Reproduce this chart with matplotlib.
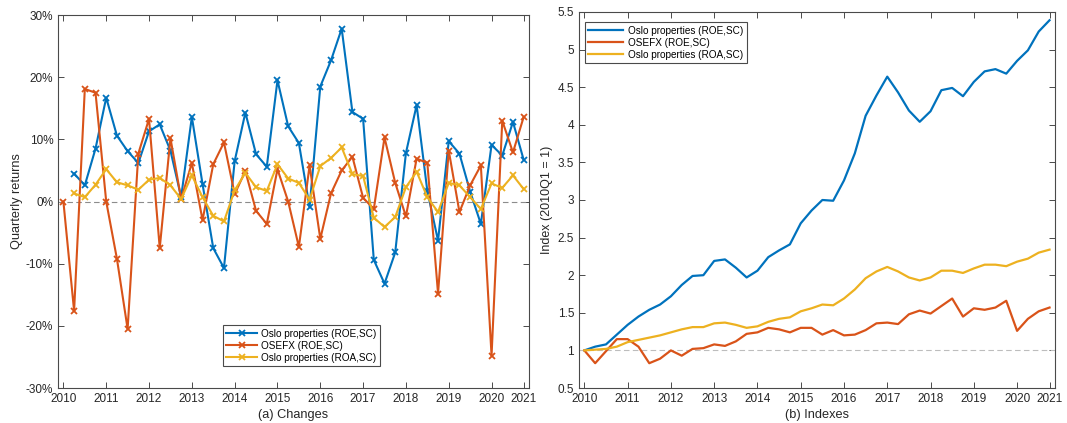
import matplotlib.pyplot as plt
import numpy as np

plt.rcParams['font.family'] = ['Liberation Sans', 'DejaVu Sans']

# quarterly observations 2010Q1 .. 2020Q4
quarters = ["{}Q{}".format(y, q) for y in range(2010, 2021) for q in range(1, 5)]

# (a) quarterly returns, percent (None = no observation)
ret_oslo_roe = [None, 4.5, 2.6, 8.5, 16.7, 10.6, 8.1, 6.2, 11.3, 12.4, 8.2, 0.7,
                13.6, 2.8, -7.5, -10.7, 6.5, 14.3, 7.6, 5.6, 19.5, 12.1, 9.4, -0.9,
                18.5, 22.7, 27.8, 14.4, 13.3, -9.4, -13.2, -8.2, 7.8, 15.5, 1.7, -6.3,
                9.7, 7.7, 1.6, -3.6, 9.1, 7.4, 12.8, 6.7]
ret_osefx = [0.0, -17.6, 18.1, 17.5, 0.0, -9.2, -20.5, 7.7, 13.3, -7.5, 10.2, 0.4,
             6.2, -3.0, 6.0, 9.5, 1.2, 4.9, -1.5, -3.6, 5.2, 0.0, -7.3, 5.8,
             -6.0, 1.3, 5.0, 7.2, 0.6, -1.2, 10.3, 3.0, -2.4, 6.9, 6.2, -14.8,
             8.2, -1.7, 2.6, 5.8, -24.8, 13.0, 7.9, 13.6]
ret_oslo_roa = [None, 1.3, 0.7, 2.7, 5.2, 3.1, 2.6, 1.9, 3.5, 3.8, 2.6, 0.4,
                4.2, 0.7, -2.3, -3.2, 1.8, 4.6, 2.3, 1.7, 6.0, 3.7, 3.0, 0.3,
                5.7, 7.0, 8.7, 4.4, 4.1, -2.6, -4.1, -2.5, 2.3, 4.8, 0.7, -1.7,
                3.0, 2.6, 0.7, -1.2, 2.9, 2.2, 4.2, 2.0]

# (b) indexes, 2010Q1 = 1
idx_oslo_roe = [1.0, 1.05, 1.08, 1.21, 1.34, 1.45, 1.54, 1.61, 1.72, 1.87, 1.99, 2.0,
                2.19, 2.21, 2.10, 1.97, 2.06, 2.24, 2.33, 2.41, 2.69, 2.86, 3.0, 2.99,
                3.26, 3.62, 4.12, 4.39, 4.64, 4.43, 4.19, 4.04, 4.18, 4.46, 4.49, 4.38,
                4.57, 4.71, 4.74, 4.68, 4.85, 4.99, 5.24, 5.39]
idx_osefx = [1.0, 0.83, 0.99, 1.15, 1.15, 1.05, 0.83, 0.89, 1.0, 0.93, 1.02, 1.03,
             1.08, 1.06, 1.12, 1.22, 1.24, 1.30, 1.28, 1.24, 1.30, 1.30, 1.21, 1.27,
             1.20, 1.21, 1.27, 1.36, 1.37, 1.35, 1.48, 1.53, 1.49, 1.59, 1.69, 1.45,
             1.56, 1.54, 1.57, 1.66, 1.26, 1.42, 1.52, 1.57]
idx_oslo_roa = [1.0, 1.01, 1.02, 1.05, 1.11, 1.14, 1.17, 1.20, 1.24, 1.28, 1.31, 1.31,
                1.36, 1.37, 1.34, 1.30, 1.32, 1.38, 1.42, 1.44, 1.52, 1.56, 1.61, 1.60,
                1.69, 1.81, 1.96, 2.05, 2.11, 2.05, 1.97, 1.93, 1.97, 2.06, 2.06, 2.03,
                2.09, 2.14, 2.14, 2.12, 2.18, 2.22, 2.30, 2.34]

labels = ["Oslo properties (ROE,SC)", "OSEFX (ROE,SC)", "Oslo properties (ROA,SC)"]
colors = ["#0072BD", "#D95319", "#EDB120"]

year_ticks = [q for q in quarters if q.endswith("Q1")] + [quarters[-1]]
year_labels = [q[:4] for q in quarters if q.endswith("Q1")] + ["2021"]

# quarter position on a year axis
t = np.array([int(q[:4]) + (int(q[-1]) - 1) / 4 for q in quarters])
tick_pos = [int(q[:4]) + (int(q[-1]) - 1) / 4 for q in year_ticks]

axis_col = "#4a4a4a"
text_col = "#262626"


def style_axes(ax):
    for s in ax.spines.values():
        s.set_color(axis_col)
        s.set_linewidth(0.8)
    ax.tick_params(direction="in", length=4, width=0.7, colors=axis_col,
                   labelcolor=text_col, labelsize=8.5, top=True, right=True)
    ax.set_xticks(tick_pos)
    ax.set_xticklabels(year_labels)
    ax.set_xlim(2009.875, 2020.875)


fig = plt.figure(figsize=(10.67, 4.23), dpi=100)
ax1 = fig.add_axes([0.0544, 0.0827, 0.4414, 0.8818])
ax2 = fig.add_axes([0.5426, 0.0827, 0.4461, 0.8890])

# --- (a) changes
ax1.axhline(0, color="#8c8c8c", ls="--", lw=0.8, dashes=(5, 3))
for series, lab, c in zip([ret_oslo_roe, ret_osefx, ret_oslo_roa], labels, colors):
    y = np.array([np.nan if v is None else v for v in series], dtype=float)
    ax1.plot(t, y, color=c, lw=1.5, marker="x", ms=5, mew=1.3, label=lab)
style_axes(ax1)
ax1.set_ylim(-30, 30)
ax1.set_yticks(range(-30, 31, 10))
ax1.set_yticklabels(["{}%".format(v) for v in range(-30, 31, 10)])
ax1.set_ylabel("Quarterly returns", fontsize=9.2, color=text_col, labelpad=2)
ax1.set_xlabel("(a) Changes", fontsize=9.2, color=text_col, labelpad=3)
leg1 = ax1.legend(loc="lower left", bbox_to_anchor=(0.35, 0.058), fontsize=7.2,
                  fancybox=False, framealpha=1, edgecolor=axis_col,
                  handlelength=3.1, borderpad=0.35, labelspacing=0.2,
                  handletextpad=0.4, borderaxespad=0)
leg1.get_frame().set_linewidth(0.8)

# --- (b) indexes
ax2.axhline(1, color="#bdbdbd", ls="--", lw=0.8, dashes=(5, 3))
for series, lab, c in zip([idx_oslo_roe, idx_osefx, idx_oslo_roa], labels, colors):
    ax2.plot(t, series, color=c, lw=1.6, label=lab)
style_axes(ax2)
ax2.set_ylim(0.5, 5.5)
ax2.set_yticks(np.arange(0.5, 5.51, 0.5))
ax2.set_yticklabels(["{:g}".format(v) for v in np.arange(0.5, 5.51, 0.5)])
ax2.set_ylabel("Index (2010Q1 = 1)", fontsize=9, color=text_col, labelpad=3)
ax2.set_xlabel("(b) Indexes", fontsize=9.2, color=text_col, labelpad=3)
leg2 = ax2.legend(loc="upper left", bbox_to_anchor=(0.012, 0.973), fontsize=7.2,
                  fancybox=False, framealpha=1, edgecolor=axis_col,
                  handlelength=3.5, borderpad=0.35, labelspacing=0.2,
                  handletextpad=0.5, borderaxespad=0)
leg2.get_frame().set_linewidth(0.8)

fig.savefig("out.png", dpi=100)
